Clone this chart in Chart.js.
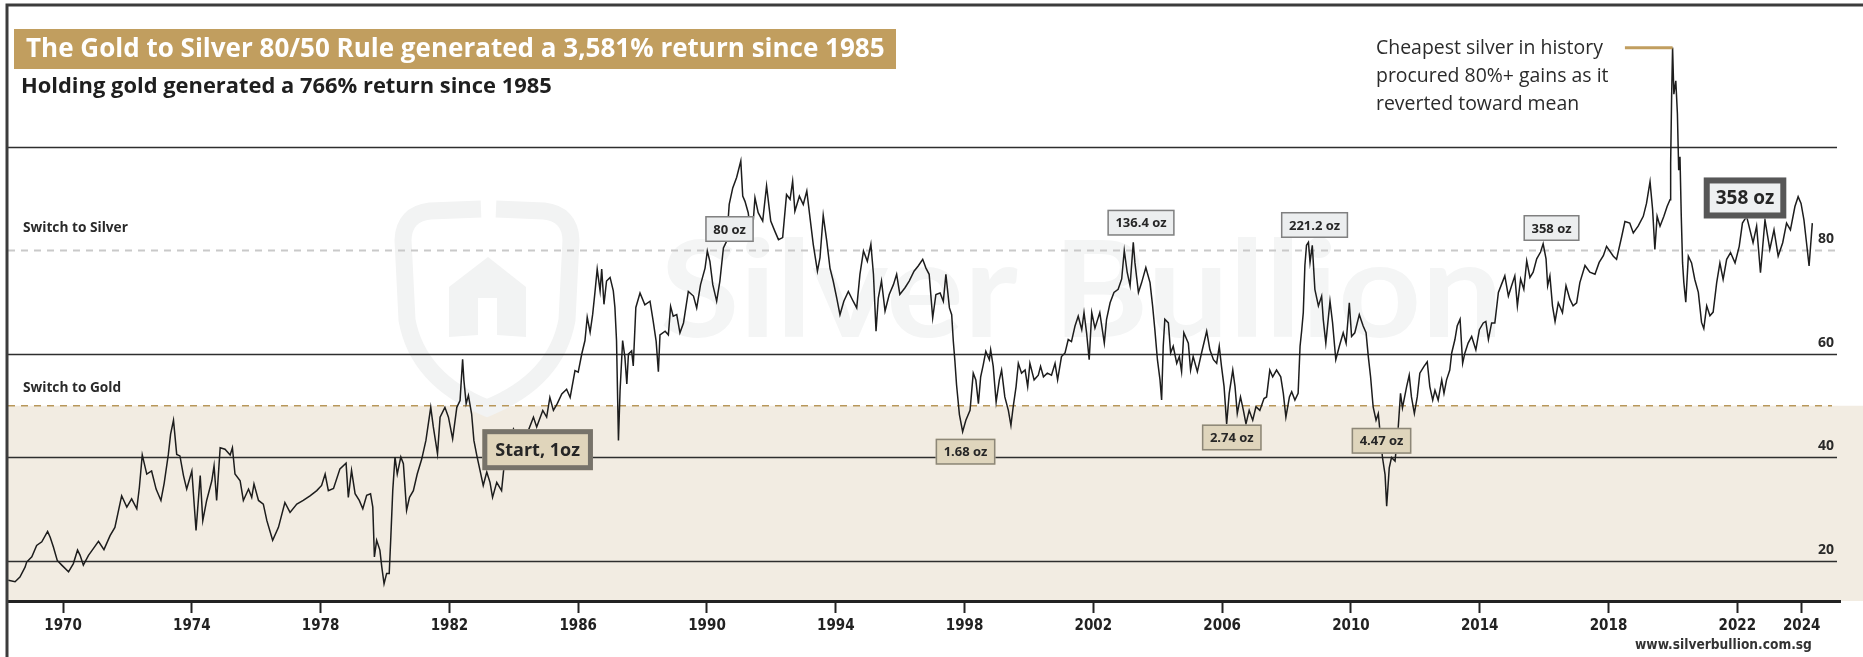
<!DOCTYPE html>
<html>
<head>
<meta charset="utf-8">
<script src="https://cdn.jsdelivr.net/npm/chart.js@4.4.1/dist/chart.umd.min.js"></script>
<style>
html, body { margin: 0; padding: 0; background: #fff; }
#wrap { width: 1863px; height: 657px; }
</style>
</head>
<body>
<div id="wrap"><canvas id="chart" width="1863" height="657"></canvas></div>
<script>
// gold / silver ratio
const years = [
  1968.30,1968.51,1968.66,1968.82,1968.87,1969.03,1969.18,1969.34,1969.52,1969.60,
  1969.70,1969.82,1969.96,1970.17,1970.32,1970.45,1970.53,1970.63,1970.79,1970.94,
  1971.10,1971.27,1971.46,1971.61,1971.72,1971.82,1971.98,1972.13,1972.29,1972.37,
  1972.46,1972.60,1972.75,1972.89,1973.04,1973.14,1973.27,1973.34,1973.43,1973.53,
  1973.63,1973.74,1973.84,1974.00,1974.13,1974.26,1974.34,1974.46,1974.62,1974.69,
  1974.77,1974.88,1975.03,1975.19,1975.26,1975.34,1975.50,1975.60,1975.76,1975.86,
  1975.93,1976.07,1976.22,1976.33,1976.51,1976.69,1976.89,1977.05,1977.26,1977.46,
  1977.67,1977.88,1978.03,
  1978.14,1978.24,1978.40,1978.60,1978.79,1978.86,1978.96,1979.07,1979.20,1979.31,
  1979.43,1979.55,1979.62,1979.64,1979.67,1979.74,1979.84,1979.90,1979.97,1980.05,
  1980.13,1980.18,1980.24,1980.31,1980.38,1980.49,1980.57,1980.67,1980.76,1980.88,
  1981.00,1981.14,1981.27,1981.42,1981.50,1981.63,1981.71,1981.86,1981.97,1982.10,
  1982.23,1982.33,1982.41,1982.45,1982.52,1982.59,1982.69,1982.76,1982.85,1982.95,
  1983.05,1983.16,1983.26,1983.34,1983.47,1983.62,1983.70,1983.80,1983.99,1984.19,
  1984.45,1984.61,1984.71,1984.90,1985.02,1985.12,1985.23,1985.35,1985.49,1985.64,
  1985.75,1985.90,1986.00,1986.11,1986.21,1986.28,1986.37,1986.45,1986.52,1986.59,
  1986.68,1986.73,1986.80,1986.88,1986.99,1987.09,1987.14,1987.19,1987.25,1987.30,
  1987.38,1987.45,1987.51,1987.56,1987.66,1987.71,1987.79,
  1987.92,1988.07,1988.23,1988.33,1988.42,1988.49,1988.54,1988.70,1988.80,1988.87,
  1988.95,1989.06,1989.16,1989.27,1989.42,1989.58,1989.68,1989.80,1989.94,1990.01,
  1990.09,1990.18,1990.30,1990.40,1990.51,1990.61,1990.69,1990.80,1990.92,1991.05,
  1991.11,1991.18,1991.28,1991.39,1991.49,1991.59,1991.73,1991.85,1991.98,1992.11,
  1992.22,1992.35,1992.47,1992.58,1992.66,1992.73,1992.87,1992.99,1993.10,1993.20,
  1993.30,1993.43,1993.51,1993.61,1993.72,1993.82,1993.92,1994.03,1994.13,1994.25,
  1994.39,1994.54,1994.65,1994.75,1994.86,1994.98,1995.09,1995.17,1995.25,1995.32,
  1995.42,1995.53,1995.66,1995.79,1995.89,1995.99,1996.15,1996.28,1996.43,1996.56,
  1996.70,1996.80,1996.90,1997.01,1997.11,1997.24,1997.34,1997.42,1997.53,1997.60,
  1997.65,1997.70,1997.75,1997.84,1997.94,
  1998.04,1998.17,1998.27,1998.35,1998.43,1998.50,1998.58,1998.66,1998.77,1998.81,
  1998.89,1998.98,1999.08,1999.15,1999.25,1999.36,1999.44,1999.51,1999.60,1999.67,
  1999.77,1999.88,1999.96,2000.03,2000.16,2000.29,2000.36,2000.45,2000.57,2000.70,
  2000.81,2000.89,2001.01,2001.12,2001.22,2001.32,2001.43,2001.53,2001.64,2001.71,
  2001.79,2001.87,2001.95,2002.05,2002.20,2002.34,2002.41,2002.52,2002.64,2002.77,
  2002.88,2002.96,2003.05,2003.14,2003.24,2003.29,2003.40,2003.50,2003.63,2003.76,
  2003.84,2003.91,2003.99,2004.07,2004.12,2004.17,2004.22,2004.33,2004.40,2004.48,
  2004.59,2004.67,2004.74,2004.81,2004.95,2005.02,2005.10,2005.23,2005.36,2005.52,
  2005.62,2005.73,2005.83,2005.91,2005.98,2006.06,2006.14,2006.22,2006.33,2006.40,
  2006.47,2006.57,2006.66,2006.74,2006.84,2006.95,2007.05,2007.17,2007.30,2007.38,
  2007.48,2007.57,2007.69,2007.82,2007.90,2007.98,2008.09,
  2008.16,2008.26,2008.36,2008.42,2008.47,2008.52,2008.57,2008.62,2008.68,2008.73,
  2008.80,2008.88,2008.99,2009.09,2009.14,2009.22,2009.35,2009.43,2009.53,2009.64,
  2009.76,2009.85,2009.95,2010.02,2010.12,2010.26,2010.38,2010.47,2010.54,2010.61,
  2010.69,2010.78,2010.85,2010.90,2010.98,2011.06,2011.11,2011.19,2011.26,2011.37,
  2011.47,2011.54,2011.60,2011.73,2011.81,2011.88,2011.97,2012.06,2012.14,2012.27,
  2012.37,2012.45,2012.54,2012.61,2012.71,2012.82,2012.89,2012.97,2013.07,2013.13,
  2013.23,2013.30,2013.39,2013.47,2013.54,2013.64,2013.75,2013.88,2013.99,2014.11,
  2014.19,2014.27,2014.37,2014.47,2014.58,2014.68,2014.78,2014.89,2014.99,2015.09,
  2015.17,2015.27,2015.37,2015.46,2015.56,2015.66,2015.77,2015.89,2015.97,2016.06,
  2016.11,2016.18,2016.26,2016.34,2016.44,2016.57,2016.68,2016.80,2016.90,2017.01,
  2017.11,2017.27,2017.42,2017.58,2017.71,2017.84,
  2017.94,2018.15,2018.25,2018.41,2018.51,2018.66,2018.77,2018.92,2019.08,2019.18,
  2019.29,2019.37,2019.44,2019.51,2019.60,2019.72,2019.82,2019.91,2019.93,2019.96,
  2019.99,2020.03,2020.09,2020.14,2020.18,2020.22,2020.26,2020.30,2020.34,2020.40,
  2020.48,2020.58,2020.68,2020.79,2020.89,2020.96,2021.05,2021.15,2021.25,2021.36,
  2021.46,2021.56,2021.67,2021.79,2021.93,2022.06,2022.16,2022.29,2022.49,2022.60,
  2022.72,2022.86,2023.01,2023.14,2023.27,2023.41,2023.53,2023.65,2023.79,2023.89,
  2023.98,2024.07,2024.15,2024.23,2024.33
];
const ratio = [
  16.3,16.0,16.9,18.8,19.8,20.8,23.0,23.7,25.7,24.6,
  22.7,20.1,19.2,17.9,19.5,22.1,21.1,19.2,21.1,22.4,
  23.8,22.2,24.9,26.5,29.7,32.6,30.4,32.0,30.1,34.2,
  40.5,36.8,37.4,33.9,31.7,35.0,40.6,44.5,47.2,40.6,
  40.3,36.5,33.9,37.4,25.9,36.5,27.8,31.7,35.5,38.4,
  31.7,41.9,41.6,40.5,41.9,36.8,35.5,31.7,33.9,32.3,
  34.9,31.7,31.0,27.8,24.0,26.5,31.3,29.4,31.0,31.7,
  32.6,33.6,34.6,
  36.8,33.6,34.0,37.8,38.9,32.3,37.5,33.0,31.7,30.1,
  32.7,33.0,30.4,26.6,20.8,24.0,22.1,18.8,15.6,17.6,
  17.6,24.6,33.6,40.1,36.8,40.1,38.8,29.8,32.3,33.6,
  36.8,39.7,43.3,49.7,45.9,40.7,47.8,49.7,47.8,43.6,
  49.7,51.0,59.0,54.9,50.4,52.0,48.4,43.3,40.4,37.5,
  34.6,37.2,35.2,32.3,35.2,33.6,38.5,40.1,45.5,43.3,
  45.2,47.8,45.9,49.1,47.8,51.6,49.1,50.4,52.3,53.2,
  51.6,56.8,56.5,60.0,62.6,67.1,64.2,67.7,71.9,76.4,
  72.2,76.4,69.6,74.1,74.8,72.2,69.0,62.6,43.3,52.9,
  62.6,59.4,54.2,60.0,60.6,57.7,69.0,
  71.8,69.5,70.2,66.3,62.5,56.6,63.7,64.4,63.7,69.2,
  67.3,67.6,64.1,66.0,72.1,71.2,68.9,73.4,76.6,79.9,
  77.9,73.4,70.2,74.1,80.5,81.8,88.9,92.1,94.1,97.3,
  90.5,89.5,87.3,81.8,90.2,87.3,85.7,92.5,85.7,83.7,
  82.1,82.5,90.8,89.9,93.4,87.6,90.5,88.9,91.5,86.3,
  81.2,76.0,78.6,86.8,81.8,76.6,74.1,70.8,67.6,70.2,
  72.1,70.2,68.9,75.4,79.9,77.9,81.2,75.4,64.4,70.8,
  74.1,68.3,71.5,73.4,75.4,71.5,72.8,74.1,76.0,77.0,
  78.3,76.6,75.4,67.0,71.5,71.8,70.2,75.4,68.9,67.6,
  62.5,58.6,54.1,48.3,45.0,
  47.2,49.1,56.3,55.0,50.4,55.6,57.9,60.5,58.9,60.8,
  57.6,50.7,55.0,56.9,51.7,49.1,46.2,49.8,53.7,58.2,
  56.3,56.9,53.7,58.2,55.0,55.9,57.6,55.6,56.3,55.9,
  58.2,55.0,59.5,60.2,62.8,62.4,65.4,67.3,64.7,68.0,
  64.1,58.9,68.0,65.0,68.0,62.1,66.7,69.9,71.9,72.5,
  74.5,80.0,75.8,73.2,81.6,77.7,71.9,73.8,76.7,73.8,
  69.3,64.7,58.9,55.0,51.1,61.5,66.7,66.0,60.2,61.5,
  58.2,59.5,56.6,64.1,62.1,56.9,59.5,56.6,60.2,64.4,
  60.8,58.9,58.2,61.5,57.6,53.7,46.5,52.4,56.9,53.7,
  48.5,51.7,49.1,46.5,49.1,47.2,49.8,49.1,51.4,51.7,
  56.9,55.6,56.9,55.6,52.4,47.8,51.7,
  52.7,51.1,52.4,61.5,64.5,68.0,77.1,81.0,81.6,77.7,
  81.0,72.5,69.3,71.2,66.7,62.1,70.2,66.0,58.9,61.5,
  64.1,62.1,69.9,63.4,64.1,67.6,65.4,64.1,59.5,55.6,
  49.8,47.2,48.5,45.2,40.0,36.7,30.6,38.0,40.0,39.3,
  45.9,52.4,49.6,53.7,55.9,51.7,48.5,51.7,56.3,57.6,
  58.5,53.7,51.1,53.0,51.1,55.0,52.4,55.0,56.9,60.2,
  62.8,65.4,66.7,58.2,60.2,62.1,63.4,60.8,64.7,66.0,
  66.3,62.8,66.0,66.0,71.9,73.5,75.1,71.2,73.2,75.1,
  69.3,74.5,72.5,78.0,74.8,75.8,78.4,79.7,81.3,78.4,
  73.2,75.1,69.3,66.3,69.9,68.0,73.2,70.6,69.3,69.9,
  73.8,77.1,75.8,75.4,77.7,79.0,
  80.8,78.9,78.3,82.7,85.6,85.3,83.4,84.7,86.6,89.1,
  93.3,87.9,80.2,86.6,84.7,86.6,88.5,89.8,96.8,109.6,
  119.2,110.2,112.8,106.4,95.5,98.1,86.6,77.6,73.8,70.0,
  78.9,77.6,74.4,71.9,66.1,64.9,69.3,67.4,68.1,73.8,
  77.6,74.4,78.3,79.6,77.6,80.8,85.3,86.6,81.5,84.7,
  75.7,85.9,80.2,84.0,78.9,81.5,85.3,84.0,88.5,90.4,
  89.1,85.9,81.5,77.0,85.3
];

const tickYears = [1970, 1974, 1978, 1982, 1986, 1990, 1994, 1998, 2002, 2006, 2010, 2014, 2018, 2022, 2024];
const ratioLabels = [20, 40, 60, 80];
const solidLevels = [20, 40, 60, 100];
const silverLevel = 80;
const goldLevel = 50;

// trade markers
const boxLabels = ['80 oz', '136.4 oz', '221.2 oz', '358 oz', '358 oz', 'Start, 1oz', '1.68 oz', '2.74 oz', '4.47 oz'];
const boxYears  = [1990.70, 2003.48, 2008.87, 2016.23, 2022.24, 1984.74, 1998.03, 2006.30, 2010.95];
const boxRatios = [84.15, 85.37, 84.93, 84.35, 90.15, 41.51, 41.12, 43.87, 43.23];
const boxKinds  = ['gray', 'gray', 'gray', 'gray', 'bigGray', 'bigBeige', 'beige', 'beige', 'beige'];

const title = 'The Gold to Silver 80/50 Rule generated a 3,581% return since 1985';
const subtitle = 'Holding gold generated a 766% return since 1985';
const noteLines = ['Cheapest silver in history', 'procured 80%+ gains as it', 'reverted toward mean'];
const noteFrom = [2018.51, 119.2];
const noteTo = [2019.99, 119.2];

const W = 1863, H = 657;
const FONT = "'Open Sans', 'Noto Sans', sans-serif";
const NARROW = "'Liberation Sans Narrow', 'DejaVu Sans Condensed', sans-serif";

const boxStyle = {
  gray:     { fill: '#eceeef', stroke: '#808080', lw: 1.5, size: 13, padX: 8,  h: 26 },
  beige:    { fill: '#dfd5bc', stroke: '#8d8778', lw: 1.5, size: 13, padX: 8,  h: 26 },
  bigGray:  { fill: '#eef0f1', stroke: '#575757', lw: 6,   size: 19, padX: 12, h: 41 },
  bigBeige: { fill: '#e0d5bb', stroke: '#77736a', lw: 5,   size: 18, padX: 13, h: 41 }
};

function fitFont(ctx, text, weight, family, width) {
  ctx.font = weight + ' 100px ' + family;
  const size = 100 * width / ctx.measureText(text).width;
  ctx.font = weight + ' ' + size + 'px ' + family;
  return size;
}

function drawWatermark(ctx) {
  ctx.save();
  ctx.strokeStyle = '#f2f3f3';
  ctx.fillStyle = '#f2f3f3';
  ctx.lineWidth = 17;
  ctx.beginPath();
  ctx.moveTo(481, 209);
  ctx.lineTo(430, 211);
  ctx.quadraticCurveTo(404, 214, 403, 240);
  ctx.lineTo(407, 320);
  ctx.quadraticCurveTo(418, 380, 487, 408);
  ctx.quadraticCurveTo(556, 380, 567, 320);
  ctx.lineTo(571, 240);
  ctx.quadraticCurveTo(570, 214, 544, 211);
  ctx.lineTo(496, 209);
  ctx.stroke();
  ctx.beginPath();
  ctx.moveTo(449, 287); ctx.lineTo(488, 257); ctx.lineTo(526, 287);
  ctx.lineTo(526, 337); ctx.lineTo(497, 335); ctx.lineTo(497, 298);
  ctx.lineTo(478, 298); ctx.lineTo(478, 335); ctx.lineTo(449, 337);
  ctx.closePath();
  ctx.fill();
  // big faint word mark
  ctx.font = 'bold 135px Lato, ' + FONT;
  const w = ctx.measureText('Silver Bullion').width;
  ctx.translate(660, 337);
  ctx.scale(843 / w, 1);
  ctx.fillStyle = '#f4f5f5';
  ctx.textBaseline = 'alphabetic';
  ctx.fillText('Silver Bullion', 0, 0);
  ctx.restore();
}

const decor = {
  id: 'decor',
  beforeDraw(chart) {
    const { ctx, chartArea: a, scales: { y } } = chart;
    ctx.save();
    ctx.fillStyle = '#fff';
    ctx.fillRect(0, 0, W, H);
    const yg = y.getPixelForValue(goldLevel);
    ctx.fillStyle = '#f2ece2';
    ctx.fillRect(a.left, yg, W - a.left, a.bottom - yg);
    ctx.restore();
    drawWatermark(ctx);
  },
  beforeDatasetsDraw(chart) {
    const { ctx, chartArea: a, scales: { y } } = chart;
    const x0 = a.left, x1 = a.right - 3;
    ctx.save();
    ctx.strokeStyle = '#2e2e2e';
    ctx.lineWidth = 1.5;
    solidLevels.forEach(v => {
      const py = Math.round(y.getPixelForValue(v)) + 0.5;
      ctx.beginPath(); ctx.moveTo(x0, py); ctx.lineTo(x1, py); ctx.stroke();
    });
    ctx.setLineDash([7, 6]);
    ctx.lineWidth = 2;
    ctx.strokeStyle = '#c9c9c9';
    let py = y.getPixelForValue(silverLevel);
    ctx.beginPath(); ctx.moveTo(x0, py); ctx.lineTo(x1, py); ctx.stroke();
    ctx.lineWidth = 1.5;
    ctx.strokeStyle = '#b8975a';
    py = y.getPixelForValue(goldLevel);
    ctx.beginPath(); ctx.moveTo(x0, py); ctx.lineTo(x1 - 5, py); ctx.stroke();
    ctx.setLineDash([]);

    // level names on the left and values on the right
    ctx.fillStyle = '#2a2a2a';
    ctx.textBaseline = 'middle';
    const s = fitFont(ctx, 'Switch to Silver', 700, FONT, 105);
    ctx.fillText('Switch to Silver', 23, y.getPixelForValue(silverLevel) - 22);
    ctx.font = '700 ' + s + 'px ' + FONT;
    ctx.fillText('Switch to Gold', 23, y.getPixelForValue(goldLevel) - 18);
    ctx.font = '700 14px ' + FONT;
    ctx.textAlign = 'right';
    ratioLabels.forEach(v => ctx.fillText(String(v), 1834, y.getPixelForValue(v) - 11));
    ctx.restore();
  },
  afterDraw(chart) {
    const { ctx, scales: { x, y } } = chart;
    ctx.save();
    // markers
    boxLabels.forEach((t, i) => {
      const st = boxStyle[boxKinds[i]];
      ctx.font = '700 ' + st.size + 'px ' + FONT;
      const w = ctx.measureText(t).width + st.padX * 2;
      const cx = x.getPixelForValue(boxYears[i]);
      const cy = y.getPixelForValue(boxRatios[i]);
      const l = cx - w / 2, tp = cy - st.h / 2;
      ctx.fillStyle = st.fill;
      ctx.fillRect(l, tp, w, st.h);
      ctx.strokeStyle = st.stroke;
      ctx.lineWidth = st.lw;
      ctx.strokeRect(l + st.lw / 2, tp + st.lw / 2, w - st.lw, st.h - st.lw);
      ctx.fillStyle = '#262626';
      ctx.textAlign = 'center';
      ctx.textBaseline = 'middle';
      ctx.fillText(t, cx, cy + 1);
    });

    // note about 2020 peak
    ctx.strokeStyle = '#c19e5f';
    ctx.lineWidth = 3;
    ctx.beginPath();
    ctx.moveTo(x.getPixelForValue(noteFrom[0]), y.getPixelForValue(noteFrom[1]));
    ctx.lineTo(x.getPixelForValue(noteTo[0]), y.getPixelForValue(noteTo[1]));
    ctx.stroke();
    ctx.fillStyle = '#2b2b2b';
    ctx.textAlign = 'left';
    ctx.textBaseline = 'middle';
    const ns = fitFont(ctx, noteLines[0], 400, FONT, 227);
    noteLines.forEach((t, i) => {
      ctx.font = '400 ' + ns + 'px ' + FONT;
      ctx.fillText(t, 1376, 48 + i * 28);
    });

    // headline
    ctx.fillStyle = '#c19e5f';
    ctx.fillRect(14, 29, 882, 40);
    ctx.fillStyle = '#ffffff';
    fitFont(ctx, title, 700, FONT, 859);
    ctx.fillText(title, 26, 50);
    ctx.fillStyle = '#1f1f1f';
    fitFont(ctx, subtitle, 700, FONT, 531);
    ctx.fillText(subtitle, 21, 87);

    ctx.fillStyle = '#333';
    fitFont(ctx, 'www.silverbullion.com.sg', 600, NARROW, 177);
    ctx.fillText('www.silverbullion.com.sg', 1635, 645);

    // frame
    ctx.strokeStyle = '#3c3c3c';
    ctx.lineWidth = 3;
    ctx.beginPath();
    ctx.moveTo(W, 5); ctx.lineTo(7, 5); ctx.lineTo(7, H);
    ctx.stroke();
    ctx.restore();
  }
};

const points = years.map((yr, i) => ({ x: yr, y: ratio[i] }));

new Chart(document.getElementById('chart').getContext('2d'), {
  type: 'line',
  data: {
    datasets: [{
      label: 'Gold/Silver ratio',
      data: points,
      borderColor: '#1d1d1d',
      borderWidth: 1.5,
      pointRadius: 0,
      tension: 0,
      fill: false
    }]
  },
  options: {
    responsive: false,
    animation: false,
    devicePixelRatio: 1,
    parsing: false,
    layout: { padding: { left: 8, right: 23, top: 5, bottom: 0 } },
    plugins: { legend: { display: false }, tooltip: { enabled: false } },
    scales: {
      x: {
        type: 'linear',
        min: 1968.29,
        max: 2025.19,
        afterBuildTicks: s => { s.ticks = tickYears.map(v => ({ value: v })); },
        afterFit: s => { s.height = 56; },
        grid: { display: true, drawOnChartArea: false, drawTicks: true, tickLength: 12, tickWidth: 2, tickColor: '#222' },
        border: { display: true, color: '#222', width: 3 },
        ticks: {
          autoSkip: false, maxRotation: 0, padding: 4, color: '#222',
          font: { family: NARROW, size: 15, weight: 'bold' },
          callback: v => String(v)
        }
      },
      y: { type: 'linear', min: 12.27, max: 127.44, display: false }
    }
  },
  plugins: [decor]
});
</script>
</body>
</html>
